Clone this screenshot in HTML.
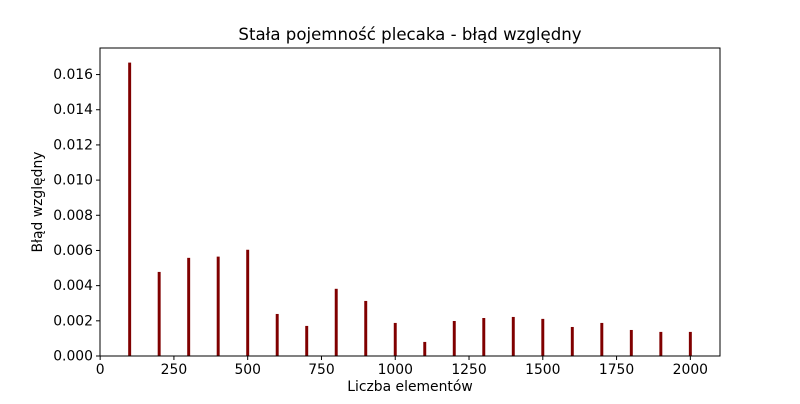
<!DOCTYPE html>
<html><head><meta charset="utf-8"><style>
body{margin:0;background:#fff;font-family:"DejaVu Sans","Liberation Sans",sans-serif;}
</style></head><body>
<svg id="c" width="800" height="400" xmlns="http://www.w3.org/2000/svg" font-family="DejaVu Sans, Liberation Sans, sans-serif">
<rect width="800" height="400" fill="#fff"/>
<text x="410" y="40" text-anchor="middle" font-size="16.6">Stała pojemność plecaka - błąd względny</text>
<text x="410" y="391" text-anchor="middle" font-size="13.9">Liczba elementów</text>
<text x="42" y="202" text-anchor="middle" font-size="13.9" transform="rotate(-90 42 202)">Błąd względny</text>
<g id="bars"></g><g id="ax"></g>
</svg>
<script>
const categories=[100,200,300,400,500,600,700,800,900,1000,1100,1200,1300,1400,1500,1600,1700,1800,1900,2000];
const errors=[0.01668,0.00478,0.00558,0.00565,0.00604,0.00239,0.00171,0.00382,0.00313,0.00188,0.0008,0.00199,0.00216,0.00222,0.00211,0.00165,0.00188,0.00148,0.00137,0.00137];
const xTicks=[0,250,500,750,1000,1250,1500,1750,2000];
const yTicks=[0,0.002,0.004,0.006,0.008,0.010,0.012,0.014,0.016];
const L=100,R=720,T=48,B=356;
const xmin=-0.5,xmax=2100.5,ymax=0.01751;
const sx=v=>L+(v-xmin)/(xmax-xmin)*(R-L);
const sy=v=>B-v/ymax*(B-T);
const NS="http://www.w3.org/2000/svg";
function mk(t,a,p){const e=document.createElementNS(NS,t);for(const k in a)e.setAttribute(k,a[k]);p.appendChild(e);return e;}
const bg=document.getElementById('bars'),ag=document.getElementById('ax');
categories.forEach((c,i)=>{const x0=sx(c-5),x1=sx(c+5);
const r=mk('rect',{x:x0,y:sy(errors[i]),width:x1-x0,height:B-sy(errors[i]),fill:'#800000'},bg);

});
const fr=mk('rect',{x:L,y:T,width:R-L,height:B-T,fill:'none',stroke:'#000','stroke-width':1},ag);


xTicks.forEach(v=>{const x=sx(v);mk('line',{x1:x,x2:x,y1:B,y2:B+4,stroke:'#000'},ag);
const t=mk('text',{x:x,y:B+18,'text-anchor':'middle','font-size':13.9},ag);t.textContent=v;

});
yTicks.forEach(v=>{const y=sy(v);mk('line',{x1:L-4,x2:L,y1:y,y2:y,stroke:'#000'},ag);
const t=mk('text',{x:L-7,y:y+4.5,'text-anchor':'end','font-size':13.9},ag);t.textContent=v.toFixed(3);

});
</script>
</body></html>
